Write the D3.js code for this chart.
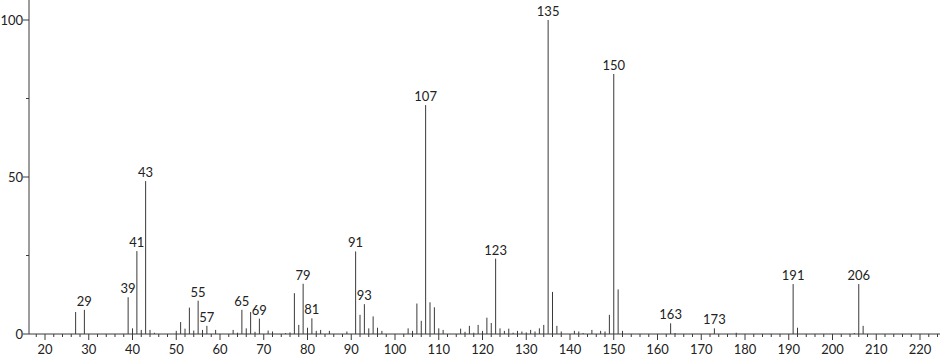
<!DOCTYPE html>
<html>
<head>
<meta charset="utf-8">
<script src="https://cdn.jsdelivr.net/npm/d3@7"></script>
<style>
  html, body { margin: 0; padding: 0; background: #fff; }
  svg { display: block; }
  text { font-family: Lato, "DejaVu Sans", sans-serif; font-size: 13px; fill: #222; }
</style>
</head>
<body>
<svg id="chart" width="940" height="356"></svg>
<script>
const mz = [27,29,39,40,41,42,43,44,45,50,51,52,53,54,55,56,57,59,63,64,65,66,67,68,69,71,72,75,76,77,78,79,80,81,82,83,85,89,
  91,92,93,94,95,96,97,103,104,105,106,107,108,109,110,111,115,116,117,118,119,120,121,122,123,124,125,126,127,128,129,130,
  131,132,133,134,135,136,137,138,141,142,143,145,147,148,149,150,151,152,163,164,173,178,191,192,205,206,207];
const intensity = [7.0,7.7,11.7,1.8,26.4,1.3,48.7,1.3,0.4,1.0,3.8,1.7,8.4,1.1,10.6,1.3,2.6,1.3,1.3,0.4,7.7,1.8,7.0,0.7,4.9,1.1,0.8,0.3,0.5,13.0,2.9,16.0,2.0,5.0,1.0,1.3,1.0,0.8,
  26.3,6.1,9.5,1.8,5.6,2.0,1.0,1.8,1.0,9.7,4.2,72.9,10.1,8.5,1.8,1.3,1.7,0.7,2.6,0.4,2.9,1.0,5.2,3.5,24.0,1.8,1.0,1.7,0.4,1.0,0.8,0.5,
  1.3,0.8,1.8,2.9,100,13.4,2.6,0.8,1.0,0.8,0.3,1.3,1.0,0.8,6.1,82.8,14.2,1.0,3.4,0.3,1.8,0.4,15.9,2.0,0.3,15.9,2.6];
const labeledPeaks = [29,39,41,43,55,57,65,69,79,81,91,93,107,123,135,150,163,173,191,206];
const xTickLabels = d3.range(20, 221, 10);
const yTickLabels = [0, 50, 100];

const svg = d3.select("#chart");
const x = d3.scaleLinear().domain([20, 220]).range([45, 920]);
const y = d3.scaleLinear().domain([0, 100]).range([334, 20]);
const x0 = 29, xEnd = 940, yTop = 0;

const peaks = mz.map((m, i) => ({ m, v: intensity[i] }));

// bars
svg.append("g").selectAll("line").data(peaks).join("line")
  .attr("x1", d => x(d.m)).attr("x2", d => x(d.m))
  .attr("y1", y(0)).attr("y2", d => y(d.v))
  .attr("stroke", "#3a3a3a").attr("stroke-width", 1);

// x axis
const gx = svg.append("g");
gx.append("line").attr("x1", x0).attr("x2", xEnd).attr("y1", y(0)).attr("y2", y(0))
  .attr("stroke", "#3a3a3a");
const minorX = d3.range(18, 225, 2).filter(v => x(v) > x0 && x(v) < xEnd);
gx.selectAll("line.minor").data(minorX).join("line").attr("class", "minor")
  .attr("x1", d => x(d)).attr("x2", d => x(d))
  .attr("y1", y(0)).attr("y2", d => y(0) + (d % 10 === 0 ? 6 : 3))
  .attr("stroke", "#3a3a3a");
gx.selectAll("text").data(xTickLabels).join("text")
  .attr("x", d => x(d)).attr("y", 354).attr("text-anchor", "middle").text(d => d);

// y axis
const gy = svg.append("g");
gy.append("line").attr("x1", x0).attr("x2", x0).attr("y1", yTop).attr("y2", y(0))
  .attr("stroke", "#3a3a3a");
gy.selectAll("line.t").data([0, 25, 50, 75, 100]).join("line").attr("class", "t")
  .attr("x1", x0).attr("x2", d => x0 - (d % 50 === 0 ? 6 : 3))
  .attr("y1", d => y(d)).attr("y2", d => y(d))
  .attr("stroke", "#3a3a3a");
gy.selectAll("text").data(yTickLabels).join("text")
  .attr("x", 23).attr("y", d => y(d) + 5).attr("text-anchor", "end").text(d => d);

// peak labels
const lab = peaks.filter(p => labeledPeaks.includes(p.m));
svg.append("g").selectAll("text").data(lab).join("text")
  .attr("x", d => x(d.m)).attr("y", d => y(d.v) - 4)
  .attr("text-anchor", "middle").text(d => d.m);
</script>
</body>
</html>
